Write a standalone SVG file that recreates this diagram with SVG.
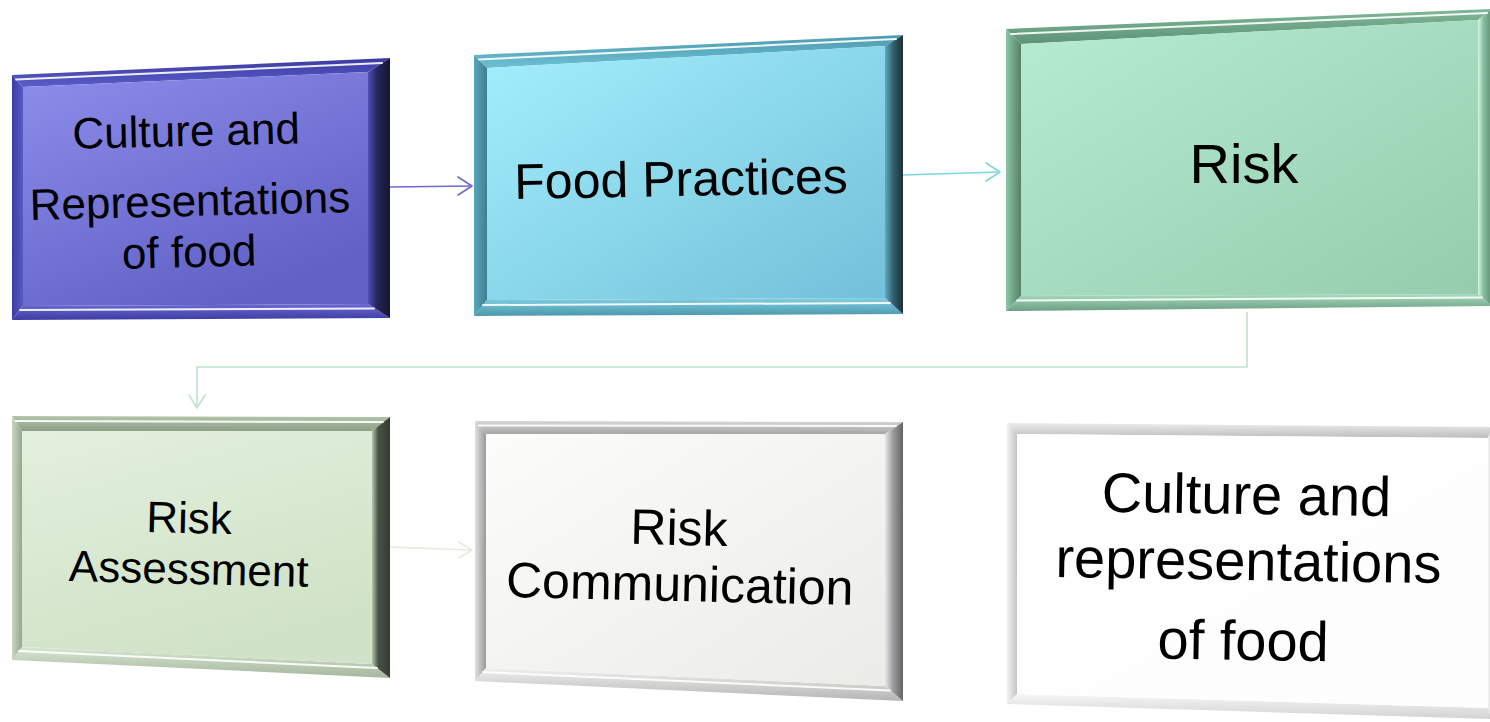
<svg xmlns="http://www.w3.org/2000/svg" width="1490" height="722" viewBox="0 0 1490 722">
  <defs>
    <style>
      .lbl { font-family: "Liberation Sans", Arial, sans-serif; fill: #000; text-anchor: middle; }
      .hl { stroke: #ffffff; stroke-width: 2; stroke-linecap: round; opacity: 0.9; fill: none; }
      .conn { fill: none; stroke-width: 1.6; }
      .tip { fill: none; stroke-width: 1.6; stroke-linecap: round; stroke-linejoin: round; }
    </style>

    <!-- box faces -->
    <linearGradient id="f1" x1="0" y1="0" x2="0.6" y2="1"><stop offset="0" stop-color="#8d8deb"/><stop offset="1" stop-color="#6161c6"/></linearGradient>
    <linearGradient id="f2" x1="0" y1="0" x2="1" y2="1"><stop offset="0" stop-color="#a4eefd"/><stop offset="1" stop-color="#72c0d9"/></linearGradient>
    <linearGradient id="f3" x1="0" y1="0" x2="1" y2="1"><stop offset="0" stop-color="#b6edd1"/><stop offset="1" stop-color="#95ccae"/></linearGradient>
    <linearGradient id="f4" x1="0" y1="0" x2="0.4" y2="1"><stop offset="0" stop-color="#e3f0dd"/><stop offset="1" stop-color="#d0e2c7"/></linearGradient>
    <linearGradient id="f5" x1="0" y1="0" x2="1" y2="1"><stop offset="0" stop-color="#fcfcfa"/><stop offset="1" stop-color="#ebebe8"/></linearGradient>
    <linearGradient id="f6" x1="0" y1="0" x2="1" y2="1"><stop offset="0" stop-color="#ffffff"/><stop offset="1" stop-color="#fdfdfd"/></linearGradient>

    <!-- right-hand bevels -->
    <linearGradient id="r1" x1="0" y1="0" x2="1" y2="0"><stop offset="0" stop-color="#5050b8"/><stop offset="0.4" stop-color="#26265e"/><stop offset="1" stop-color="#15152f"/></linearGradient>
    <linearGradient id="r2" x1="0" y1="0" x2="1" y2="0"><stop offset="0" stop-color="#5fa9bd"/><stop offset="0.45" stop-color="#33606e"/><stop offset="1" stop-color="#1c3039"/></linearGradient>
    <linearGradient id="r3" x1="0" y1="0" x2="1" y2="0"><stop offset="0" stop-color="#d8f3e4"/><stop offset="0.4" stop-color="#86bd9d"/><stop offset="1" stop-color="#5f8f74"/></linearGradient>
    <linearGradient id="r4" x1="0" y1="0" x2="1" y2="0"><stop offset="0" stop-color="#b4c6ab"/><stop offset="0.35" stop-color="#4a5247"/><stop offset="1" stop-color="#343a32"/></linearGradient>
    <linearGradient id="r5" x1="0" y1="0" x2="1" y2="0"><stop offset="0" stop-color="#e8e8e8"/><stop offset="0.45" stop-color="#9c9c9c"/><stop offset="1" stop-color="#646464"/></linearGradient>
    <linearGradient id="r6" x1="0" y1="0" x2="1" y2="0"><stop offset="0" stop-color="#f4f4f4"/><stop offset="1" stop-color="#cfcfcf"/></linearGradient>

    <!-- top bevels -->
    <linearGradient id="t1" x1="0" y1="0" x2="0" y2="1"><stop offset="0" stop-color="#3a3aa4"/><stop offset="1" stop-color="#5c5cc8"/></linearGradient>
    <linearGradient id="t2" x1="0" y1="0" x2="0" y2="1"><stop offset="0" stop-color="#4d9bb0"/><stop offset="1" stop-color="#6cbfd4"/></linearGradient>
    <linearGradient id="t3" x1="0" y1="0" x2="0" y2="1"><stop offset="0" stop-color="#7fb898"/><stop offset="1" stop-color="#5f9277"/></linearGradient>
    <linearGradient id="t4" x1="0" y1="0" x2="0" y2="1"><stop offset="0" stop-color="#b2c5aa"/><stop offset="1" stop-color="#8e9f88"/></linearGradient>
    <linearGradient id="t5" x1="0" y1="0" x2="0" y2="1"><stop offset="0" stop-color="#d6d6d6"/><stop offset="1" stop-color="#a6a6a6"/></linearGradient>
    <linearGradient id="t6" x1="0" y1="0" x2="0" y2="1"><stop offset="0" stop-color="#ececec"/><stop offset="1" stop-color="#bdbdbd"/></linearGradient>

    <!-- bottom bevels -->
    <linearGradient id="b1" x1="0" y1="0" x2="0" y2="1"><stop offset="0" stop-color="#6a6ad4"/><stop offset="1" stop-color="#3c3ca2"/></linearGradient>
    <linearGradient id="b2" x1="0" y1="0" x2="0" y2="1"><stop offset="0" stop-color="#7fd0e2"/><stop offset="1" stop-color="#4c97ab"/></linearGradient>
    <linearGradient id="b3" x1="0" y1="0" x2="0" y2="1"><stop offset="0" stop-color="#a6dcbf"/><stop offset="1" stop-color="#6d9f83"/></linearGradient>
    <linearGradient id="b4" x1="0" y1="0" x2="0" y2="1"><stop offset="0" stop-color="#d8e6d1"/><stop offset="1" stop-color="#a5b69d"/></linearGradient>
    <linearGradient id="b5" x1="0" y1="0" x2="0" y2="1"><stop offset="0" stop-color="#f0f0f0"/><stop offset="1" stop-color="#b4b4b4"/></linearGradient>
    <linearGradient id="b6" x1="0" y1="0" x2="0" y2="1"><stop offset="0" stop-color="#f6f6f6"/><stop offset="1" stop-color="#d2d2d2"/></linearGradient>

    <!-- left bevels -->
    <linearGradient id="l1" x1="0" y1="0" x2="1" y2="0"><stop offset="0" stop-color="#3b3ba6"/><stop offset="1" stop-color="#5a5ac4"/></linearGradient>
    <linearGradient id="l2" x1="0" y1="0" x2="1" y2="0"><stop offset="0" stop-color="#58a7bb"/><stop offset="1" stop-color="#3f7f91"/></linearGradient>
    <linearGradient id="l3" x1="0" y1="0" x2="1" y2="0"><stop offset="0" stop-color="#8cc6a6"/><stop offset="1" stop-color="#577f68"/></linearGradient>
    <linearGradient id="l4" x1="0" y1="0" x2="1" y2="0"><stop offset="0" stop-color="#c8d8c0"/><stop offset="1" stop-color="#95a68e"/></linearGradient>
    <linearGradient id="l5" x1="0" y1="0" x2="1" y2="0"><stop offset="0" stop-color="#e0e0e0"/><stop offset="1" stop-color="#9a9a9a"/></linearGradient>
    <linearGradient id="l6" x1="0" y1="0" x2="1" y2="0"><stop offset="0" stop-color="#f2f2f2"/><stop offset="1" stop-color="#c4c4c4"/></linearGradient>
  </defs>

  <rect width="1490" height="722" fill="#ffffff"/>

  <!-- connectors -->
  <g id="connectors">
    <path class="conn" stroke="#6a6ad2" d="M390,187 L471,186"/>
    <path class="tip" stroke="#6a6ad2" d="M458,177 L472,186 L458,195"/>

    <path class="conn" stroke="#7ed6e1" d="M903,175 L999,172"/>
    <path class="tip" stroke="#7ed6e1" d="M986,163 L1000,172 L986,181"/>

    <path class="conn" stroke="#bfe4cb" d="M1247,312 L1247,367 L197,367 L197,407"/>
    <path class="tip" stroke="#bfe4cb" d="M189,395 L197,408 L205,395"/>

    <path class="conn" stroke="#e5ecdf" d="M388,547 L471,550"/>
    <path class="tip" stroke="#e5ecdf" d="M459,542 L472,550 L459,558"/>
  </g>

  <!-- Culture and Representations of food -->
  <g id="node-culture">
    <polygon fill="url(#t1)" points="12,75 390,58 368,72 23,87"/>
    <polygon fill="url(#l1)" points="12,75 23,87 23,306 12,320"/>
    <polygon fill="url(#b1)" points="23,306 368,304 390,318 12,320"/>
    <polygon fill="url(#r1)" points="368,72 390,58 390,318 368,304"/>
    <polygon fill="url(#f1)" points="23,87 368,72 368,304 23,306"/>
    <line class="hl" x1="16" y1="79.5" x2="382" y2="63"/>
    <line class="hl" x1="20" y1="310" x2="374" y2="308.5"/>
    <g transform="rotate(-1.4 190 205)">
      <text class="lbl" font-size="44" x="188" y="146">Culture and</text>
      <text class="lbl" font-size="44" x="190" y="216">Representations</text>
      <text class="lbl" font-size="44" x="188" y="267">of food</text>
    </g>
  </g>

  <!-- Food Practices -->
  <g id="node-practices">
    <polygon fill="url(#t2)" points="474,55 903,35 885,46 487,68"/>
    <polygon fill="url(#l2)" points="474,55 487,68 487,300 474,316"/>
    <polygon fill="url(#b2)" points="487,300 885,298 903,314 474,316"/>
    <polygon fill="url(#r2)" points="885,46 903,35 903,314 885,298"/>
    <polygon fill="url(#f2)" points="487,68 885,46 885,298 487,300"/>
    <line class="hl" x1="479" y1="59.5" x2="896" y2="39"/>
    <line class="hl" x1="483" y1="305" x2="890" y2="303"/>
    <text class="lbl" font-size="50" x="681" y="196" transform="rotate(-1 681 180)">Food Practices</text>
  </g>

  <!-- Risk -->
  <g id="node-risk">
    <polygon fill="url(#t3)" points="1006,29 1492,9 1478,20 1021,44"/>
    <polygon fill="url(#l3)" points="1006,29 1021,44 1021,296 1006,311"/>
    <polygon fill="url(#b3)" points="1021,296 1478,294 1492,306 1006,311"/>
    <polygon fill="url(#r3)" points="1478,20 1492,9 1492,306 1478,294"/>
    <polygon fill="url(#f3)" points="1021,44 1478,20 1478,294 1021,296"/>
    <line class="hl" x1="1011" y1="34" x2="1487" y2="13"/>
    <line class="hl" x1="1017" y1="300.5" x2="1482" y2="297.5"/>
    <text class="lbl" font-size="56" x="1244" y="183">Risk</text>
  </g>

  <!-- Risk Assessment -->
  <g id="node-assessment">
    <polygon fill="url(#t4)" points="12,416 390,417 372,431 22,431"/>
    <polygon fill="url(#l4)" points="12,416 22,431 22,647 12,660"/>
    <polygon fill="url(#b4)" points="22,647 372,664 390,678 12,660"/>
    <polygon fill="url(#r4)" points="372,431 390,417 390,678 372,664"/>
    <polygon fill="url(#f4)" points="22,431 372,431 372,664 22,647"/>
    <line class="hl" x1="15.5" y1="421" x2="383" y2="422"/>
    <line class="hl" x1="19" y1="651" x2="377" y2="668"/>
    <g transform="rotate(1.4 189 560)">
      <text class="lbl" font-size="44" x="188" y="533">Risk</text>
      <text class="lbl" font-size="44" x="189" y="584">Assessment</text>
    </g>
  </g>

  <!-- Risk Communication -->
  <g id="node-communication">
    <polygon fill="url(#t5)" points="475,421 903,422 885,434 486,434"/>
    <polygon fill="url(#l5)" points="475,421 486,434 486,668 475,681"/>
    <polygon fill="url(#b5)" points="486,668 885,686 903,701 475,681"/>
    <polygon fill="url(#r5)" points="885,434 903,422 903,701 885,686"/>
    <polygon fill="url(#f5)" points="486,434 885,434 885,686 486,668"/>
    <line class="hl" x1="479" y1="425.5" x2="896" y2="426"/>
    <line class="hl" x1="483" y1="672" x2="890" y2="690.5"/>
    <g transform="rotate(1.3 680 575)">
      <text class="lbl" font-size="50" x="678" y="545">Risk</text>
      <text class="lbl" font-size="50" x="680" y="601">Communication</text>
    </g>
  </g>

  <!-- Culture and representations of food (closing box) -->
  <g id="node-culture-return">
    <polygon fill="url(#t6)" points="1007,423 1492,427 1488,438 1017,434"/>
    <polygon fill="url(#l6)" points="1007,423 1017,434 1017,694 1007,704"/>
    <polygon fill="url(#b6)" points="1017,694 1488,708 1492,719 1007,704"/>
    <polygon fill="url(#r6)" points="1488,438 1492,427 1492,719 1488,708"/>
    <polygon fill="url(#f6)" points="1017,434 1488,438 1488,708 1017,694"/>
    <g transform="rotate(0.9 1246 590)">
      <text class="lbl" font-size="56" x="1245" y="514">Culture and</text>
      <text class="lbl" font-size="56" x="1248" y="580">representations</text>
      <text class="lbl" font-size="56" x="1244" y="660">of food</text>
    </g>
  </g>
</svg>
